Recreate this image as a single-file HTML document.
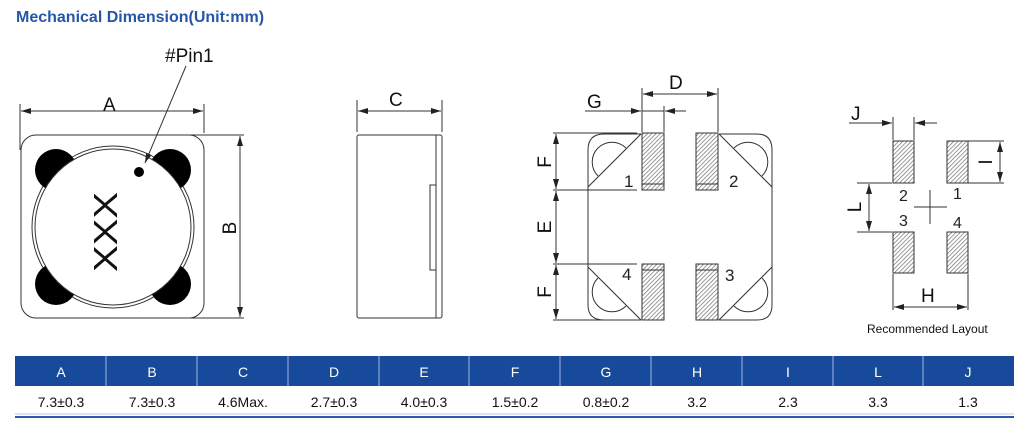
<!DOCTYPE html>
<html><head><meta charset="utf-8"><style>
body{margin:0;background:#fff;width:1024px;height:431px;overflow:hidden;font-family:"Liberation Sans",sans-serif}
</style></head><body>
<svg width="1024" height="431" viewBox="0 0 1024 431" xmlns="http://www.w3.org/2000/svg" font-family="Liberation Sans, sans-serif">
<defs>
<pattern id="h" width="3" height="3" patternUnits="userSpaceOnUse" patternTransform="rotate(45)">
<rect width="3" height="3" fill="#fff"/><line x1="0" y1="0" x2="0" y2="3" stroke="#666" stroke-width="1.3"/></pattern>
<marker id="ar" viewBox="0 0 10 6" refX="10" refY="3" markerWidth="10" markerHeight="6" orient="auto-start-reverse" markerUnits="userSpaceOnUse"><path d="M0,0L10,3L0,6z" fill="#222"/></marker>
</defs>
<text x="16" y="22" font-size="16" font-weight="bold" fill="#2457a8">Mechanical Dimension(Unit:mm)</text>
<g stroke="#333" stroke-width="1" fill="none">
<rect x="21" y="135" width="183" height="183" rx="15"/>
<line x1="20" y1="104" x2="20" y2="150"/><line x1="204" y1="104" x2="204" y2="133"/>
<line x1="21" y1="111" x2="203" y2="111" marker-start="url(#ar)" marker-end="url(#ar)"/>
<line x1="190" y1="135" x2="244" y2="135"/><line x1="190" y1="318" x2="244" y2="318"/>
<line x1="240" y1="136" x2="240" y2="317" marker-start="url(#ar)" marker-end="url(#ar)"/>
</g>
<circle cx="113" cy="227" r="81" fill="#fff" stroke="#333" stroke-width="1"/>
<g fill="#000">
<circle cx="56" cy="170" r="21"/><circle cx="170" cy="170" r="21"/>
<circle cx="56" cy="284" r="21"/><circle cx="170" cy="284" r="21"/>
</g>
<circle cx="113" cy="227" r="78" fill="#fff" stroke="#333" stroke-width="1"/>
<circle cx="139" cy="172" r="5" fill="#000"/>
<line x1="186" y1="66" x2="145" y2="163" stroke="#333" stroke-width="1" marker-end="url(#ar)"/>
<text x="165" y="62" font-size="19" fill="#111">#Pin1</text>
<text x="103" y="111" font-size="19" fill="#111">A</text>
<text transform="translate(236,228) rotate(-90)" font-size="19" fill="#111" text-anchor="middle">B</text>
<text transform="translate(117,232) rotate(-90)" font-size="33" fill="#111" text-anchor="middle" textLength="80" lengthAdjust="spacingAndGlyphs">XXX</text>
<!-- side view -->
<g stroke="#333" stroke-width="1" fill="none">
<rect x="357" y="135" width="85" height="183" rx="2"/>
<line x1="436" y1="135" x2="436" y2="318"/>
<rect x="430" y="185" width="6" height="85"/>
<line x1="357" y1="100" x2="357" y2="132"/><line x1="442" y1="100" x2="442" y2="132"/>
<line x1="358" y1="111" x2="441" y2="111" marker-start="url(#ar)" marker-end="url(#ar)"/>
</g>
<text x="389" y="106" font-size="19" fill="#111">C</text>
<!-- bottom view -->
<g stroke="#333" stroke-width="1" fill="none">
<path d="M641,134 H604 Q588,134 588,150 V305 Q588,320 604,320 H641"/>
<path d="M719,134 H757 Q772,134 772,150 V305 Q772,320 757,320 H719"/>
<line x1="641" y1="134" x2="588" y2="187"/><line x1="719" y1="134" x2="772" y2="187"/>
<line x1="641" y1="320" x2="588" y2="267"/><line x1="719" y1="320" x2="772" y2="267"/>
<path d="M598,176 A14,14 0 0 1 626,148"/>
<path d="M762,176 A14,14 0 0 0 734,148"/>
<path d="M598,278 A14,14 0 0 0 626,306"/>
<path d="M762,278 A14,14 0 0 1 734,306"/>
<rect x="642" y="133" width="22" height="57" fill="url(#h)"/>
<rect x="696" y="133" width="22" height="57" fill="url(#h)"/>
<rect x="642" y="264" width="22" height="56" fill="url(#h)"/>
<rect x="696" y="264" width="22" height="56" fill="url(#h)"/>
<line x1="642" y1="184" x2="664" y2="184"/><line x1="696" y1="184" x2="718" y2="184"/>
<line x1="642" y1="270" x2="664" y2="270"/><line x1="696" y1="270" x2="718" y2="270"/>
<line x1="642" y1="88" x2="642" y2="132"/><line x1="718" y1="88" x2="718" y2="132"/><line x1="664" y1="106" x2="664" y2="132"/>
<line x1="643" y1="94" x2="717" y2="94" marker-start="url(#ar)" marker-end="url(#ar)"/>
<line x1="585" y1="111" x2="641" y2="111" marker-end="url(#ar)"/>
<line x1="686" y1="111" x2="665" y2="111" marker-end="url(#ar)"/>
<line x1="642" y1="111" x2="664" y2="111"/>
<line x1="553" y1="133" x2="637" y2="133"/><line x1="553" y1="190" x2="637" y2="190"/>
<line x1="553" y1="264" x2="637" y2="264"/><line x1="553" y1="320" x2="637" y2="320"/>
<line x1="556" y1="134" x2="556" y2="189" marker-start="url(#ar)" marker-end="url(#ar)"/>
<line x1="556" y1="191" x2="556" y2="263" marker-start="url(#ar)" marker-end="url(#ar)"/>
<line x1="556" y1="265" x2="556" y2="319" marker-start="url(#ar)" marker-end="url(#ar)"/>
</g>
<g font-size="19" fill="#111">
<text x="669" y="89">D</text><text x="587" y="108">G</text>
<text transform="translate(551,162) rotate(-90)" text-anchor="middle">F</text>
<text transform="translate(551,227) rotate(-90)" text-anchor="middle">E</text>
<text transform="translate(551,292) rotate(-90)" text-anchor="middle">F</text>
</g>
<g font-size="17" fill="#222">
<text x="624" y="187">1</text><text x="729" y="187">2</text>
<text x="622" y="280">4</text><text x="725" y="281">3</text>
</g>
<!-- layout -->
<g stroke="#333" stroke-width="1" fill="none">
<rect x="893" y="141" width="21" height="42" fill="url(#h)"/>
<rect x="947" y="141" width="21" height="42" fill="url(#h)"/>
<rect x="893" y="232" width="21" height="41" fill="url(#h)"/>
<rect x="947" y="232" width="21" height="41" fill="url(#h)"/>
<line x1="893" y1="117" x2="893" y2="140"/><line x1="914" y1="117" x2="914" y2="140"/>
<line x1="849" y1="123" x2="892" y2="123" marker-end="url(#ar)"/>
<line x1="937" y1="123" x2="915" y2="123" marker-end="url(#ar)"/>
<line x1="968" y1="141" x2="1004" y2="141"/><line x1="968" y1="183" x2="1004" y2="183"/>
<line x1="1000" y1="142" x2="1000" y2="182" marker-start="url(#ar)" marker-end="url(#ar)"/>
<line x1="857" y1="183" x2="892" y2="183"/><line x1="857" y1="232" x2="892" y2="232"/>
<line x1="869" y1="184" x2="869" y2="231" marker-start="url(#ar)" marker-end="url(#ar)"/>
<line x1="893" y1="274" x2="893" y2="310"/><line x1="968" y1="274" x2="968" y2="310"/>
<line x1="894" y1="307" x2="967" y2="307" marker-start="url(#ar)" marker-end="url(#ar)"/>
<line x1="914" y1="207" x2="947" y2="207"/><line x1="930" y1="190" x2="930" y2="224"/>
</g>
<g font-size="19" fill="#111">
<text x="851" y="120">J</text><text x="921" y="302">H</text>
<text transform="translate(992,162) rotate(-90)" text-anchor="middle">I</text>
<text transform="translate(861,207) rotate(-90)" text-anchor="middle">L</text>
</g>
<g font-size="16" fill="#222">
<text x="899" y="201">2</text><text x="953" y="199">1</text>
<text x="899" y="226">3</text><text x="953" y="228">4</text>
</g>
<text x="867" y="333" font-size="12" fill="#111">Recommended Layout</text>
<!-- table -->
<rect x="15" y="356" width="999" height="30" fill="#174a9a"/>
<g stroke="#9fb6dc" stroke-width="1">
<line x1="106" y1="356" x2="106" y2="386"/><line x1="197" y1="356" x2="197" y2="386"/><line x1="288" y1="356" x2="288" y2="386"/>
<line x1="379" y1="356" x2="379" y2="386"/><line x1="469" y1="356" x2="469" y2="386"/><line x1="560" y1="356" x2="560" y2="386"/>
<line x1="651" y1="356" x2="651" y2="386"/><line x1="742" y1="356" x2="742" y2="386"/><line x1="833" y1="356" x2="833" y2="386"/>
<line x1="923" y1="356" x2="923" y2="386"/>
</g>
<rect x="15" y="416" width="999" height="2" fill="#2a5aa8"/>
<line x1="15" y1="414" x2="1014" y2="414" stroke="#b8c8e4" stroke-width="1"/>
<g font-size="14" fill="#fff" text-anchor="middle">
<text x="61" y="377">A</text><text x="152" y="377">B</text><text x="243" y="377">C</text><text x="334" y="377">D</text>
<text x="424" y="377">E</text><text x="515" y="377">F</text><text x="606" y="377">G</text><text x="697" y="377">H</text>
<text x="788" y="377">I</text><text x="878" y="377">L</text><text x="968" y="377">J</text>
</g>
<g font-size="14" fill="#111" text-anchor="middle">
<text x="61" y="407">7.3±0.3</text><text x="152" y="407">7.3±0.3</text><text x="243" y="407">4.6Max.</text><text x="334" y="407">2.7±0.3</text>
<text x="424" y="407">4.0±0.3</text><text x="515" y="407">1.5±0.2</text><text x="606" y="407">0.8±0.2</text><text x="697" y="407">3.2</text>
<text x="788" y="407">2.3</text><text x="878" y="407">3.3</text><text x="968" y="407">1.3</text>
</g>
</svg>
</body></html>
